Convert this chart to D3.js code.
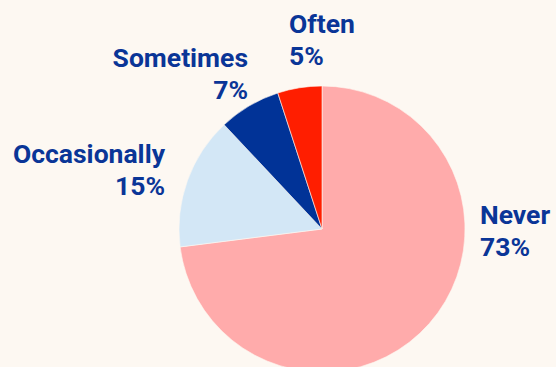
<!DOCTYPE html>
<html>
<head>
<meta charset="utf-8">
<script src="https://cdn.jsdelivr.net/npm/d3@7"></script>
<style>
  html, body { margin: 0; padding: 0; background: #fdf8f2; }
  svg { display: block; }
  text { font-family: Roboto, "Noto Sans", sans-serif; font-weight: 700; }
</style>
</head>
<body>
<svg id="chart" width="556" height="367"></svg>
<script>
// Survey answers, in drawing order (clockwise from 12 o'clock)
const categories = ["Never", "Occasionally", "Sometimes", "Often"];
const shares = [73, 15, 7, 5];
const colors = ["#ffabab", "#d3e7f6", "#013397", "#ff1e00"];

// Label placement relative to the pie centre: [dx, dy of first line, anchor]
const labelLayout = {
  Never:        [158, -5, "start"],
  Occasionally: [-157, -66, "end"],
  Sometimes:    [-74, -162, "end"],
  Often:        [-33, -196, "start"]
};

const width = 556, height = 367;
const cx = 322, cy = 229, radius = 143;
const lineGap = 31.5;

const svg = d3.select("#chart");
const g = svg.append("g").attr("transform", `translate(${cx},${cy})`);

const data = categories.map((c, i) => ({ category: c, value: shares[i], color: colors[i] }));

const pie = d3.pie().value(d => d.value).sort(null);
const arc = d3.arc().innerRadius(0).outerRadius(radius);

const arcs = pie(data);

g.selectAll("path.slice")
  .data(arcs)
  .join("path")
  .attr("class", "slice")
  .attr("d", arc)
  .attr("fill", d => d.data.color)
  .attr("stroke", "#fdf8f2")
  .attr("stroke-width", 0.6);

const labels = g.selectAll("text.label")
  .data(arcs)
  .join("text")
  .attr("class", "label")
  .attr("fill", "#0a3597")
  .attr("font-size", 26.5)
  .attr("text-anchor", d => labelLayout[d.data.category][2])
  .attr("transform", d => {
    const [dx, dy] = labelLayout[d.data.category];
    return `translate(${dx},${dy})`;
  });

labels.append("tspan")
  .attr("x", 0)
  .attr("y", 0)
  .text(d => d.data.category);

labels.append("tspan")
  .attr("x", 0)
  .attr("y", lineGap)
  .text(d => d.data.value + "%");
</script>
</body>
</html>
